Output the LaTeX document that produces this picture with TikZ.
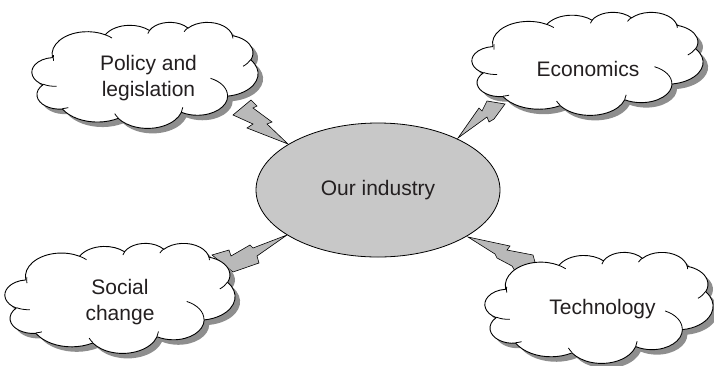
\documentclass[tikz,border=0pt]{standalone}
\usepackage{fontspec}
\setmainfont{Liberation Sans}
\usetikzlibrary{shapes.geometric}
\definecolor{ellfill}{HTML}{C8C8C8}
\definecolor{boltfill}{HTML}{B9B9B9}
\definecolor{shadowc}{HTML}{8E8E8E}
\definecolor{txt}{HTML}{231F20}
\tikzset{
  cshadow/.style={fill=shadowc, draw=none},
  cbody/.style={fill=white, draw=black, line width=0.9pt},
  cline/.style={draw=black, line width=0.8pt},
  bolt/.style={fill=boltfill, draw=black, line width=0.6pt, line join=miter},
  lbl/.style={font=\fontsize{21}{26}\selectfont, text=txt, align=center, inner sep=0pt},
  industry/.style={ellipse, draw=black, line width=0.8pt, fill=ellfill,
    minimum width=244pt, minimum height=134pt, inner sep=0pt,
    font=\fontsize{21}{26}\selectfont, text=txt}
}
% uses \cx, \cy (scale factors); #1 style, #2 x0, #3 y0
\newcommand{\mycloudpath}[3]{%
  \path[#1] ({#2+39.00*\cx},{#3+143.70*\cy})
    arc[start angle=-187.75, end angle=-59.64, x radius={67.53*\cx}, y radius={91.90*\cy}]
    arc[start angle=-152.03, end angle=-45.45, x radius={53.33*\cx}, y radius={72.67*\cy}]
    arc[start angle=-153.48, end angle=-37.32, x radius={43.65*\cx}, y radius={59.45*\cy}]
    arc[start angle=-139.72, end angle=-10.21, x radius={48.57*\cx}, y radius={65.95*\cy}]
    arc[start angle=-74.77, end angle=23.21, x radius={53.33*\cx}, y radius={72.73*\cy}]
    arc[start angle=-37.54, end angle=81.86, x radius={67.75*\cx}, y radius={92.20*\cy}]
    arc[start angle=0.46, end angle=121.98, x radius={57.85*\cx}, y radius={78.67*\cy}]
    arc[start angle=16.84, end angle=146.22, x radius={67.52*\cx}, y radius={92.15*\cy}]
    arc[start angle=58.99, end angle=150.18, x radius={77.20*\cx}, y radius={105.43*\cy}]
    arc[start angle=83.30, end angle=223.10, x radius={43.60*\cx}, y radius={59.18*\cy}]
    arc[start angle=120.35, end angle=264.11, x radius={43.45*\cx}, y radius={59.45*\cy}]
    -- cycle;}
% #1 x0, #2 y0
\newcommand{\mycloudarcs}[2]{%
  \path[cline]
    ({#1+46.93*\cx},{#2+261.77*\cy}) arc[start angle=85.55, end angle=120.35, x radius={43.45*\cx}, y radius={59.45*\cy}]
    ({#1+69.28*\cx},{#2+348.99*\cy}) arc[start angle=68.24, end angle=83.30, x radius={43.60*\cx}, y radius={59.18*\cy}]
    ({#1+164.78*\cx},{#2+390.90*\cy}) arc[start angle=146.22, end angle=158.47, x radius={67.52*\cx}, y radius={92.15*\cy}]
    ({#1+288.27*\cx},{#2+347.51*\cy}) arc[start angle=4.74, end angle=16.84, x radius={67.52*\cx}, y radius={92.15*\cy}]
    ({#1+341.29*\cx},{#2+229.54*\cy}) arc[start angle=-64.00, end angle=0.46, x radius={57.85*\cx}, y radius={78.67*\cy}]
    ({#1+417.98*\cx},{#2+153.54*\cy}) arc[start angle=23.21, end angle=49.65, x radius={53.33*\cx}, y radius={72.73*\cy}]
    ({#1+383.24*\cx},{#2+54.26*\cy}) arc[start angle=-10.21, end angle=0.82, x radius={48.57*\cx}, y radius={65.95*\cy}]
    ({#1+290.78*\cx},{#2+39.52*\cy}) arc[start angle=-156.28, end angle=-139.72, x radius={48.57*\cx}, y radius={65.95*\cy}]
    ({#1+221.41*\cx},{#2+47.20*\cy}) arc[start angle=-167.72, end angle=-153.48, x radius={43.65*\cx}, y radius={59.45*\cy}]
    ({#1+140.00*\cx},{#2+51.92*\cy}) arc[start angle=-59.64, end angle=-45.75, x radius={67.53*\cx}, y radius={91.90*\cy}]
    ({#1+41.27*\cx},{#2+157.89*\cy}) arc[start angle=-187.75, end angle=-173.54, x radius={67.53*\cx}, y radius={91.90*\cy}];}
% #1 x0, #2 y0, #3 width, #4 height
\newcommand{\mycloud}[4]{%
  \pgfmathsetmacro{\cx}{#3/432}%
  \pgfmathsetmacro{\cy}{#4/432}%
  \mycloudpath{cshadow}{#1+5}{#2+5}%
  \mycloudpath{cbody}{#1}{#2}%
  \mycloudarcs{#1}{#2}}
\begin{document}
\begin{tikzpicture}[x=1pt, y=-1pt]
\useasboundingbox (0,0) rectangle (714,365);
% lightning bolts
\path[bolt] (251,100) -- (257,106) -- (253,108) -- (272,122) -- (267,124)
  -- (288,144) -- (247,128) -- (253,124) -- (233,115) -- cycle;
\path[bolt] (458,138) -- (479,108) -- (482,111) -- (487,101) -- (505,104)
  -- (494,119) -- (489,122) -- (487,117) -- cycle;
\path[bolt] (212,255) -- (229,250) -- (231,256) -- (250,245) -- (253,248)
  -- (287,235) -- (257,256) -- (259,263) -- (233,272) -- cycle;
\path[bolt] (468,237) -- (510,246) -- (507,250) -- (533,255) -- (535,262)
  -- (515,271) -- (512,266) -- (497,258) -- (495,254) -- cycle;
% clouds
\mycloud{32}{22}{226}{106}
\mycloud{472}{12}{231}{103}
\mycloud{5}{243}{230}{110}
\mycloud{485}{252}{228}{111}
% centre
\node[industry] (ind) at (378,190) {Our industry};
% labels
\node[lbl] (policy) at (148.5,78) {Policy and\\legislation};
\node[lbl] (econ) at (588,68.5) {Economics};
\node[lbl] (social) at (120,302) {Social\\change};
\node[lbl] (tech) at (602.5,309.5) {Technology};
\end{tikzpicture}
\end{document}
